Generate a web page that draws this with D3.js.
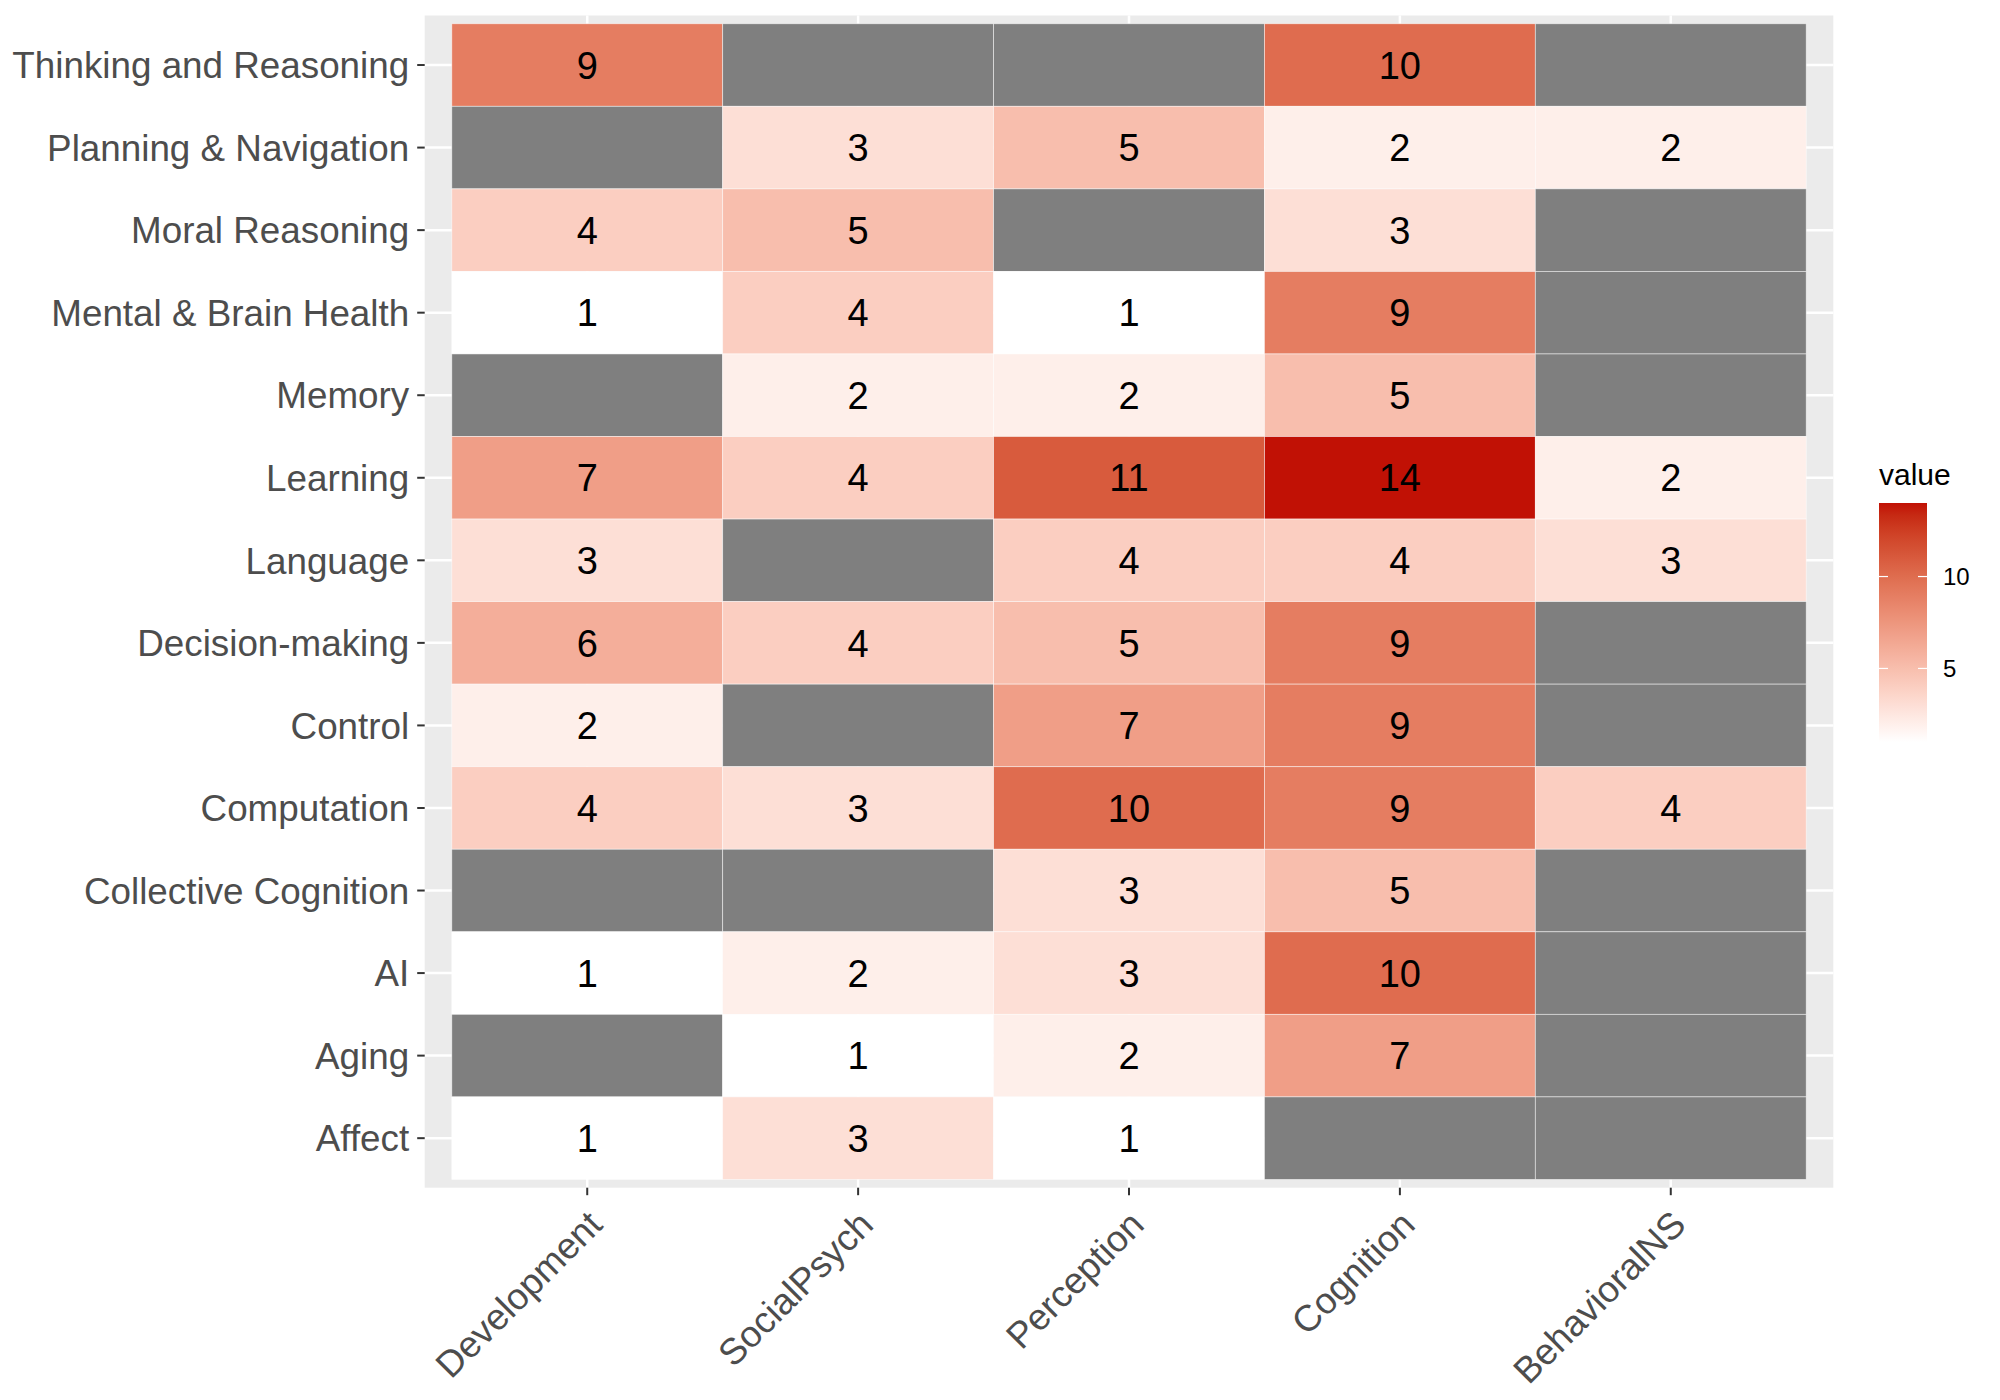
<!DOCTYPE html>
<html>
<head>
<meta charset="utf-8">
<script src="https://cdn.jsdelivr.net/npm/d3@7"></script>
<style>
html,body{margin:0;padding:0;background:#fff;}
svg{display:block;font-family:"Liberation Sans",Arial,Helvetica,sans-serif;}
</style>
</head>
<body>
<svg id="chart" width="2000" height="1400"></svg>
<script>
const columns = ["Development","SocialPsych","Perception","Cognition","BehavioralNS"];
const rows = ["Thinking and Reasoning","Planning & Navigation","Moral Reasoning","Mental & Brain Health","Memory","Learning","Language","Decision-making","Control","Computation","Collective Cognition","AI","Aging","Affect"];
const developmentValues = [9,null,4,1,null,7,3,6,2,4,null,1,null,1];
const socialPsychValues = [null,3,5,4,2,4,null,4,null,3,null,2,1,3];
const perceptionValues  = [null,5,null,1,2,11,4,5,7,10,3,3,2,1];
const cognitionValues   = [10,2,3,9,5,14,4,9,9,9,5,10,7,null];
const behavioralNSValues= [null,2,null,null,null,2,3,null,null,4,null,null,null,null];
const legendTicks = [5,10];
const legendTitle = "value";

const seriesByColumn = [developmentValues,socialPsychValues,perceptionValues,cognitionValues,behavioralNSValues];
const cells = [];
columns.forEach((c,ci)=>rows.forEach((r,ri)=>cells.push({col:c,row:r,value:seriesByColumn[ci][ri]})));

const svg = d3.select("#chart");
const panel = {x0:424.7,x1:1833.3,y0:15.5,y1:1187.7};
const x = d3.scaleBand().domain(columns).range([panel.x0,panel.x1]).paddingInner(0).paddingOuter(0.1);
const y = d3.scaleBand().domain(rows).range([panel.y0,panel.y1]).paddingInner(0).paddingOuter(0.1);

const vals = cells.filter(d=>d.value!=null).map(d=>d.value);
const vmin = d3.min(vals), vmax = d3.max(vals);
const color = d3.scaleLinear().domain([vmin,vmax]).range(["#ffffff","#c11105"]).interpolate(d3.interpolateLab);

// panel background
svg.append("rect").attr("x",panel.x0).attr("y",panel.y0).attr("width",panel.x1-panel.x0).attr("height",panel.y1-panel.y0).attr("fill","#ebebeb");
// grid lines
svg.append("g").selectAll("line").data(columns).join("line")
  .attr("x1",d=>x(d)+x.bandwidth()/2).attr("x2",d=>x(d)+x.bandwidth()/2)
  .attr("y1",panel.y0).attr("y2",panel.y1).attr("stroke","#fff").attr("stroke-width",2.5);
svg.append("g").selectAll("line").data(rows).join("line")
  .attr("y1",d=>y(d)+y.bandwidth()/2).attr("y2",d=>y(d)+y.bandwidth()/2)
  .attr("x1",panel.x0).attr("x2",panel.x1).attr("stroke","#fff").attr("stroke-width",2.5);

// tiles
svg.append("g").selectAll("rect").data(cells).join("rect")
  .attr("x",d=>x(d.col)).attr("y",d=>y(d.row))
  .attr("width",x.bandwidth()).attr("height",y.bandwidth())
  .attr("fill",d=>d.value==null?"#7f7f7f":color(d.value))
  .attr("stroke","#ffffff").attr("stroke-opacity",0.6).attr("stroke-width",0.8);

// cell labels
svg.append("g").selectAll("text").data(cells.filter(d=>d.value!=null)).join("text")
  .attr("x",d=>x(d.col)+x.bandwidth()/2).attr("y",d=>y(d.row)+y.bandwidth()/2)
  .attr("dy","0.36em").attr("text-anchor","middle")
  .attr("font-size",38).attr("fill","#000").text(d=>d.value);

// y axis
const yAxis = d3.axisLeft(y).tickSize(7.5).tickPadding(8);
const gy = svg.append("g").attr("transform",`translate(${panel.x0},0)`).call(yAxis);
gy.select(".domain").remove();
gy.selectAll(".tick line").attr("stroke","#333").attr("stroke-width",2);
gy.selectAll(".tick text").attr("font-size",36.8).attr("fill","#4d4d4d")
  .attr("font-family","'Liberation Sans',Arial,sans-serif").attr("dy","0.36em");

// x axis
const xAxis = d3.axisBottom(x).tickSize(7.5).tickPadding(0);
const gx = svg.append("g").attr("transform",`translate(0,${panel.y1})`).call(xAxis);
gx.select(".domain").remove();
gx.selectAll(".tick line").attr("stroke","#333").attr("stroke-width",2);
gx.selectAll(".tick text").attr("font-size",36.8).attr("fill","#4d4d4d")
  .attr("font-family","'Liberation Sans',Arial,sans-serif")
  .attr("text-anchor","end").attr("x",0).attr("y",0).attr("dy",0)
  .attr("transform","translate(17,39) rotate(-45)");

// legend
const lg = {x:1879,y0:503,y1:742,w:48};
const ls = d3.scaleLinear().domain([vmin,vmax]).range([lg.y1,lg.y0]);
const defs = svg.append("defs");
const grad = defs.append("linearGradient").attr("id","lgrad").attr("x1",0).attr("y1",1).attr("x2",0).attr("y2",0);
d3.range(0,21).forEach(i=>{
  const t=i/20;
  grad.append("stop").attr("offset",t).attr("stop-color",color(vmin+t*(vmax-vmin)));
});
svg.append("rect").attr("x",lg.x).attr("y",lg.y0).attr("width",lg.w).attr("height",lg.y1-lg.y0).attr("fill","url(#lgrad)");
const lt = svg.append("g");
legendTicks.forEach(v=>{
  lt.append("line").attr("x1",lg.x).attr("x2",lg.x+9).attr("y1",ls(v)).attr("y2",ls(v)).attr("stroke","#fff").attr("stroke-width",1.2);
  lt.append("line").attr("x1",lg.x+lg.w-9).attr("x2",lg.x+lg.w).attr("y1",ls(v)).attr("y2",ls(v)).attr("stroke","#fff").attr("stroke-width",1.2);
  lt.append("text").attr("x",lg.x+lg.w+16).attr("y",ls(v)).attr("dy","0.36em").attr("font-size",24).attr("fill","#000").text(v);
});
svg.append("text").attr("x",lg.x).attr("y",485).attr("font-size",30).attr("fill","#000").text(legendTitle);
</script>
</body>
</html>
